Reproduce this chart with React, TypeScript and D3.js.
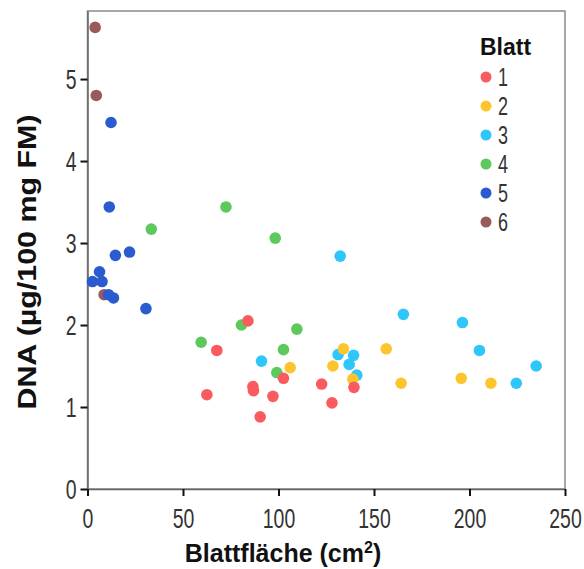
import { useEffect, useRef } from 'react';
import * as d3 from 'd3';

// Blattfläche (cm²) and DNA (µg/100 mg FM) per leaf number
const blatt1X = [84, 67.7, 62.5, 86.6, 86.9, 90.4, 97.1, 102.6, 122.6, 128, 139.5];
const blatt1Y = [2.05, 1.69, 1.15, 1.25, 1.2, 0.88, 1.13, 1.35, 1.28, 1.05, 1.24];
const blatt2X = [106.1, 134, 128.5, 138.9, 156.4, 164.2, 195.7, 211.2];
const blatt2Y = [1.48, 1.71, 1.5, 1.34, 1.71, 1.29, 1.35, 1.29];
const blatt3X = [91.1, 132.3, 131.2, 139.3, 137, 141, 165.4, 196.3, 205.2, 234.9, 224.5];
const blatt3Y = [1.56, 2.84, 1.64, 1.63, 1.52, 1.39, 2.13, 2.03, 1.69, 1.5, 1.29];
const blatt4X = [33.4, 72.5, 98.3, 59.5, 80.6, 102.6, 99.1, 109.6];
const blatt4Y = [3.17, 3.44, 3.06, 1.79, 2.0, 1.7, 1.42, 1.95];
const blatt5X = [12.3, 11.4, 14.6, 22, 6.3, 2.6, 7.6, 11, 13.6, 30.6];
const blatt5Y = [4.47, 3.44, 2.85, 2.89, 2.65, 2.53, 2.53, 2.37, 2.33, 2.2];
const blatt6X = [4.0, 4.6, 8.7];
const blatt6Y = [5.63, 4.8, 2.37];

const groups = ['1', '2', '3', '4', '5', '6'];
const xs = [blatt1X, blatt2X, blatt3X, blatt4X, blatt5X, blatt6X];
const ys = [blatt1Y, blatt2Y, blatt3Y, blatt4Y, blatt5Y, blatt6Y];
const colours = ['#f95b5f', '#fdc52d', '#2fc7fb', '#5dc95c', '#2a5bcf', '#9b5a5a'];

const xTicks = [0, 50, 100, 150, 200, 250];
const yTicks = [0, 1, 2, 3, 4, 5];

const FONT = 'Liberation Sans, Arial, sans-serif';

function App() {
  const ref = useRef<SVGSVGElement>(null);
  const width = 584;
  const height = 569;
  const left = 87.5;
  const right = 565;
  const top = 11;
  const bottom = 489;
  const squeeze = 0.72;

  useEffect(() => {
    const svg = d3.select(ref.current);
    svg.selectAll('*').remove();

    const xScale = d3.scaleLinear().domain([0, 250]).range([left, right]);
    const yScale = d3.scaleLinear().domain([0, 5.83]).range([bottom, top]);

    svg.append('rect')
      .attr('x', left)
      .attr('y', top)
      .attr('width', right - left)
      .attr('height', bottom - top)
      .attr('fill', 'none')
      .attr('stroke', '#8a8a8a')
      .attr('stroke-width', 1.5);

    const xAxis = svg.append('g')
      .attr('transform', `translate(0, ${bottom})`)
      .call(d3.axisBottom(xScale).tickValues(xTicks).tickFormat(d3.format('d')).tickSize(7).tickSizeOuter(0));
    const yAxis = svg.append('g')
      .attr('transform', `translate(${left}, 0)`)
      .call(d3.axisLeft(yScale).tickValues(yTicks).tickFormat(d3.format('d')).tickSize(7).tickSizeOuter(0));

    [xAxis, yAxis].forEach((g) => {
      g.select('.domain').attr('stroke', '#666').attr('stroke-width', 1.5);
      g.selectAll('.tick line').attr('stroke', '#111').attr('stroke-width', 2);
      g.selectAll('.tick text')
        .attr('fill', '#333')
        .attr('font-family', FONT)
        .attr('font-size', 27)
        .attr('transform', `scale(${squeeze},1)`);
    });
    xAxis.selectAll('.tick text').attr('y', 39).attr('dy', null);
    yAxis.selectAll('.tick text').attr('x', -11 / squeeze).attr('dy', '0.36em');

    // draw leaf 6 first so leaf 1 ends on top
    for (let i = groups.length - 1; i >= 0; i -= 1) {
      svg.append('g')
        .selectAll('circle')
        .data(d3.range(xs[i].length))
        .enter()
        .append('circle')
        .attr('cx', (j) => xScale(xs[i][j]))
        .attr('cy', (j) => yScale(ys[i][j]))
        .attr('r', 5.8)
        .attr('fill', colours[i]);
    }

    const legend = svg.append('g');
    legend.append('text')
      .attr('x', 480)
      .attr('y', 55)
      .attr('font-family', FONT)
      .attr('font-weight', 'bold')
      .attr('font-size', 23)
      .attr('fill', '#111')
      .text('Blatt');
    const rows = legend.selectAll('g.row')
      .data(groups)
      .enter()
      .append('g')
      .attr('class', 'row')
      .attr('transform', (d, i) => `translate(486, ${77 + i * 29})`);
    rows.append('circle')
      .attr('r', 5.5)
      .attr('fill', (d, i) => colours[i]);
    rows.append('text')
      .attr('x', 12 / squeeze)
      .attr('dy', '0.36em')
      .attr('transform', `scale(${squeeze},1)`)
      .attr('font-family', FONT)
      .attr('font-size', 25)
      .attr('fill', '#333')
      .text((d) => d);

    const xTitle = svg.append('text')
      .attr('x', 283)
      .attr('y', 562)
      .attr('text-anchor', 'middle')
      .attr('font-family', FONT)
      .attr('font-weight', 'bold')
      .attr('font-size', 25)
      .attr('fill', '#111');
    xTitle.append('tspan').text('Blattfläche (cm');
    xTitle.append('tspan').attr('font-size', 16).attr('dy', -9).text('2');
    xTitle.append('tspan').attr('dy', 9).text(')');

    svg.append('text')
      .attr('transform', 'translate(36, 262) rotate(-90) scale(1.17,1)')
      .attr('text-anchor', 'middle')
      .attr('font-family', FONT)
      .attr('font-weight', 'bold')
      .attr('font-size', 26)
      .attr('fill', '#111')
      .text('DNA (µg/100 mg FM)');
  }, []);

  return (
    <svg
      ref={ref}
      width={width}
      height={height}
      style={{ position: 'absolute', left: 0, top: 0, background: '#fff' }}
    />
  );
}

export default App;
